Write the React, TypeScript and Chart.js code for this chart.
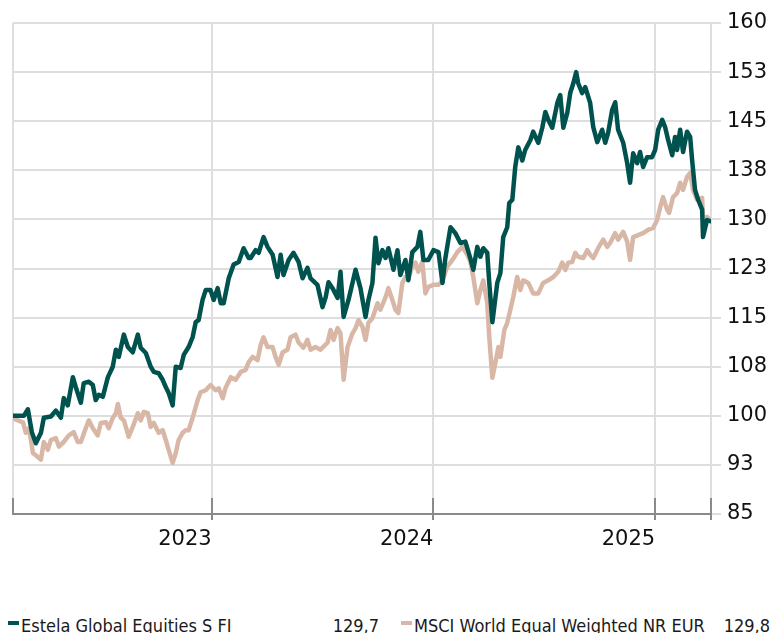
import React, { useEffect, useRef } from "react";
import { Chart, registerables } from "chart.js";
Chart.register(...registerables);

// ---- data (decimal years / index values) ----
const estelaTime = [
  2022.104, 2022.153, 2022.171, 2022.189, 2022.207, 2022.23, 2022.243, 2022.275, 2022.297, 2022.32,
  2022.333, 2022.351, 2022.374, 2022.387, 2022.41, 2022.423, 2022.446, 2022.464, 2022.477, 2022.491,
  2022.509, 2022.532, 2022.554, 2022.568, 2022.581, 2022.604, 2022.622, 2022.644, 2022.667, 2022.68,
  2022.703, 2022.725, 2022.739, 2022.761, 2022.779, 2022.793, 2022.806, 2022.824, 2022.838, 2022.86,
  2022.874, 2022.896, 2022.914, 2022.928, 2022.941, 2022.959, 2022.973, 2022.995, 2023.009, 2023.027,
  2023.041, 2023.054, 2023.077, 2023.099, 2023.122, 2023.144, 2023.167, 2023.176, 2023.198, 2023.212,
  2023.234, 2023.252, 2023.275, 2023.297, 2023.311, 2023.324, 2023.347, 2023.369, 2023.392, 2023.41,
  2023.432, 2023.446, 2023.477, 2023.5, 2023.514, 2023.527, 2023.545, 2023.568, 2023.581, 2023.595,
  2023.617, 2023.649, 2023.671, 2023.694, 2023.707, 2023.725, 2023.739, 2023.752, 2023.77, 2023.784,
  2023.797, 2023.82, 2023.838, 2023.851, 2023.874, 2023.887, 2023.905, 2023.928, 2023.941, 2023.955,
  2023.977, 2024.0, 2024.023, 2024.041, 2024.054, 2024.077, 2024.099, 2024.122, 2024.144, 2024.167,
  2024.18, 2024.198, 2024.212, 2024.225, 2024.243, 2024.252, 2024.266, 2024.288, 2024.302, 2024.315,
  2024.333, 2024.342, 2024.356, 2024.369, 2024.383, 2024.401, 2024.414, 2024.437, 2024.45, 2024.473,
  2024.491, 2024.505, 2024.518, 2024.536, 2024.559, 2024.572, 2024.586, 2024.604, 2024.617, 2024.631,
  2024.644, 2024.653, 2024.671, 2024.685, 2024.707, 2024.721, 2024.739, 2024.761, 2024.775, 2024.788,
  2024.806, 2024.82, 2024.833, 2024.856, 2024.874, 2024.887, 2024.901, 2024.919, 2024.932, 2024.946,
  2024.964, 2024.986, 2025.0, 2025.014, 2025.032, 2025.045, 2025.059, 2025.077, 2025.09, 2025.099,
  2025.113, 2025.126, 2025.144, 2025.158, 2025.167, 2025.18, 2025.194, 2025.212, 2025.216, 2025.234,
  2025.252,
];
const estelaValue = [
  100.0, 100.0, 101.0, 97.5, 95.8, 97.4, 99.7, 99.9, 100.8, 99.7,
  102.7, 101.6, 105.9, 104.4, 102.0, 105.0, 105.2, 104.7, 102.4, 103.2,
  102.9, 105.9, 107.5, 110.1, 109.0, 112.4, 110.5, 109.7, 112.4, 110.4,
  109.6, 107.5, 106.7, 106.5, 105.5, 104.4, 103.5, 101.6, 107.5, 107.3,
  109.3, 110.5, 112.0, 114.3, 114.6, 117.7, 119.2, 119.2, 117.7, 119.5,
  117.2, 117.2, 121.0, 123.1, 123.5, 125.6, 124.1, 124.1, 125.3, 124.9,
  127.3, 125.8, 124.6, 121.2, 124.6, 121.5, 123.8, 124.9, 123.5, 121.0,
  122.6, 121.0, 120.0, 116.6, 118.1, 120.4, 119.5, 118.0, 122.0, 115.1,
  117.7, 122.3, 119.5, 115.1, 117.7, 120.3, 127.2, 123.3, 125.3, 124.1,
  125.6, 122.3, 125.3, 121.5, 123.8, 120.7, 125.0, 125.8, 128.1, 123.8,
  123.8, 125.3, 125.0, 120.3, 124.1, 128.8, 127.9, 126.4, 126.6, 124.0,
  122.3, 125.8, 124.3, 125.6, 124.9, 120.3, 114.3, 120.3, 121.8, 127.3,
  128.8, 132.5, 133.0, 138.0, 141.0, 139.0, 140.6, 142.1, 143.4, 141.7,
  144.0, 146.4, 145.2, 144.0, 147.8, 149.0, 144.0, 146.3, 149.3, 150.8,
  152.5, 150.8, 149.3, 150.2, 147.8, 144.1, 141.8, 143.7, 141.7, 143.2,
  146.7, 147.9, 143.7, 141.7, 138.6, 135.6, 140.1, 138.6, 140.3, 138.0,
  139.5, 139.5, 140.6, 143.7, 145.2, 144.1, 142.1, 139.8, 142.6, 140.6,
  143.7, 140.3, 143.4, 142.6, 139.0, 134.5, 133.0, 131.5, 127.3, 129.9,
  129.7,
];

const msciTime = [
  2022.104, 2022.126, 2022.149, 2022.162, 2022.176, 2022.194, 2022.216, 2022.23, 2022.243, 2022.261,
  2022.275, 2022.297, 2022.311, 2022.333, 2022.356, 2022.378, 2022.396, 2022.41, 2022.432, 2022.446,
  2022.464, 2022.486, 2022.5, 2022.523, 2022.536, 2022.554, 2022.568, 2022.577, 2022.59, 2022.604,
  2022.626, 2022.644, 2022.667, 2022.68, 2022.694, 2022.712, 2022.725, 2022.739, 2022.761, 2022.779,
  2022.793, 2022.806, 2022.824, 2022.838, 2022.851, 2022.869, 2022.883, 2022.896, 2022.914, 2022.937,
  2022.95, 2022.973, 2022.995, 2023.018, 2023.032, 2023.05, 2023.063, 2023.086, 2023.108, 2023.131,
  2023.153, 2023.167, 2023.185, 2023.207, 2023.221, 2023.234, 2023.252, 2023.275, 2023.288, 2023.302,
  2023.32, 2023.342, 2023.356, 2023.378, 2023.392, 2023.414, 2023.432, 2023.446, 2023.468, 2023.491,
  2023.523, 2023.536, 2023.55, 2023.568, 2023.581, 2023.595, 2023.613, 2023.635, 2023.649, 2023.662,
  2023.68, 2023.694, 2023.707, 2023.725, 2023.748, 2023.761, 2023.784, 2023.797, 2023.815, 2023.829,
  2023.842, 2023.86, 2023.874, 2023.887, 2023.905, 2023.919, 2023.932, 2023.95, 2023.964, 2023.977,
  2024.0, 2024.023, 2024.041, 2024.063, 2024.086, 2024.108, 2024.131, 2024.153, 2024.167, 2024.18,
  2024.198, 2024.212, 2024.225, 2024.243, 2024.252, 2024.266, 2024.279, 2024.293, 2024.302, 2024.32,
  2024.333, 2024.347, 2024.36, 2024.378, 2024.392, 2024.405, 2024.428, 2024.45, 2024.473, 2024.495,
  2024.518, 2024.541, 2024.563, 2024.581, 2024.595, 2024.608, 2024.626, 2024.64, 2024.653, 2024.676,
  2024.694, 2024.707, 2024.721, 2024.743, 2024.766, 2024.784, 2024.797, 2024.82, 2024.833, 2024.856,
  2024.874, 2024.887, 2024.901, 2024.923, 2024.946, 2024.968, 2024.991, 2025.009, 2025.023, 2025.036,
  2025.054, 2025.063, 2025.081, 2025.099, 2025.113, 2025.126, 2025.144, 2025.158, 2025.171, 2025.189,
  2025.212, 2025.216, 2025.234, 2025.252,
];
const msciValue = [
  99.6, 99.3, 99.0, 97.4, 98.1, 94.3, 93.7, 93.3, 96.0, 94.8,
  96.3, 96.6, 95.3, 96.0, 97.0, 97.5, 96.0, 96.0, 98.1, 99.3,
  98.1, 97.0, 98.9, 99.0, 98.1, 99.7, 100.4, 101.8, 99.7, 99.3,
  96.8, 98.3, 100.4, 99.3, 100.6, 100.4, 98.3, 98.9, 97.4, 97.8,
  96.3, 94.8, 92.8, 94.3, 96.3, 97.4, 97.8, 97.8, 99.7, 102.4,
  103.6, 103.9, 104.7, 103.9, 104.2, 102.7, 104.3, 105.9, 105.5, 106.7,
  107.0, 108.2, 109.0, 108.5, 110.8, 112.0, 110.5, 110.5, 109.0, 107.8,
  109.7, 110.1, 112.0, 112.4, 111.2, 110.4, 111.6, 110.1, 110.5, 110.1,
  111.2, 113.1, 111.6, 113.4, 112.6, 105.5, 110.5, 112.6, 113.4, 114.6,
  113.6, 111.6, 114.2, 114.9, 117.2, 116.2, 118.1, 119.5, 117.7, 116.2,
  115.7, 120.3, 121.2, 121.0, 122.8, 123.4, 122.0, 123.5, 118.7, 119.7,
  120.0, 120.0, 120.7, 122.8, 123.8, 125.0, 125.8, 124.6, 123.5, 121.2,
  117.2, 119.2, 120.7, 117.2, 112.0, 105.8, 108.0, 110.5, 109.0, 113.1,
  114.2, 116.2, 118.1, 121.2, 119.2, 120.7, 120.3, 118.7, 118.7, 120.3,
  120.7, 121.2, 122.0, 123.4, 122.3, 123.4, 123.5, 124.9, 124.3, 124.1,
  125.3, 124.6, 124.1, 125.6, 126.9, 125.8, 126.4, 127.9, 126.9, 128.1,
  126.6, 123.8, 127.3, 127.6, 127.9, 128.4, 128.7, 129.9, 131.9, 133.4,
  131.5, 131.0, 133.4, 134.0, 135.6, 134.5, 136.5, 137.1, 134.5, 133.0,
  133.3, 129.9, 130.4, 129.8,
];

const yearTicks = [2023, 2024, 2025];
const axisStart = 2022.104;
const axisEnd = 2025.252;
const yMin = 85;
const yMax = 160;
const yStep = 7.5;
const seriesNames = ["Estela Global Equities S FI", "MSCI World Equal Weighted NR EUR"];
const lastValues = ["129,7", "129,8"];
const seriesColors = ["#00524e", "#d9b7a7"];

const axisMarks = {
  id: "axisMarks",
  afterDatasetsDraw(chart: any) {
    const { ctx, chartArea, scales } = chart;
    const x = scales.x;
    ctx.save();
    ctx.strokeStyle = "#8a8a8a";
    ctx.lineWidth = 2;
    ctx.beginPath();
    ctx.moveTo(chartArea.left - 1, chartArea.bottom);
    ctx.lineTo(chartArea.right + 1, chartArea.bottom);
    ctx.stroke();
    [axisStart, ...yearTicks, axisEnd].forEach((v, i) => {
      const px = Math.round(x.getPixelForValue(v));
      ctx.beginPath();
      ctx.moveTo(px, chartArea.bottom - 16);
      ctx.lineTo(px, i === 0 ? chartArea.bottom : chartArea.bottom + 6);
      ctx.stroke();
    });
    ctx.restore();
  },
};

function ChartView() {
  const ref = useRef<HTMLCanvasElement>(null);
  useEffect(() => {
    if (!ref.current) return;
    Chart.defaults.font.family = "'DejaVu Sans', Verdana, sans-serif";
    const chart = new Chart(ref.current, {
      type: "line",
      data: {
        datasets: [
          {
            label: seriesNames[0],
            data: estelaTime.map((t, i) => ({ x: t, y: estelaValue[i] })),
            borderColor: seriesColors[0],
            backgroundColor: seriesColors[0],
            borderWidth: 4.5,
            pointRadius: 0,
            tension: 0,
            borderJoinStyle: "round",
            borderCapStyle: "round",
          },
          {
            label: seriesNames[1],
            data: msciTime.map((t, i) => ({ x: t, y: msciValue[i] })),
            borderColor: seriesColors[1],
            backgroundColor: seriesColors[1],
            borderWidth: 4.5,
            pointRadius: 0,
            tension: 0,
            borderJoinStyle: "round",
            borderCapStyle: "round",
          },
        ],
      },
      options: {
        animation: false,
        responsive: false,
        devicePixelRatio: 1,
        layout: { padding: { top: 23, left: 12, right: 0, bottom: 0 } },
        plugins: { legend: { display: false }, tooltip: { enabled: false } },
        scales: {
          x: {
            type: "linear",
            min: axisStart,
            max: axisEnd,
            afterBuildTicks: (s: any) => {
              s.ticks = [axisStart, ...yearTicks, axisEnd].map((v) => ({ value: v }));
            },
            afterFit: (s: any) => {
              s.height = 46;
            },
            ticks: {
              autoSkip: false,
              maxRotation: 0,
              align: "end",
              padding: 13,
              color: "#111",
              font: { size: 21 },
              callback: (v: any) => (yearTicks.includes(v) ? String(v) : ""),
            },
            grid: { color: "#dedede", lineWidth: 2, drawTicks: false },
            border: { display: false },
          },
          y: {
            position: "right",
            min: yMin,
            max: yMax,
            afterFit: (s: any) => {
              s.width = 60;
            },
            ticks: {
              stepSize: yStep,
              padding: 6,
              color: "#111",
              font: { size: 21 },
              callback: (v: any) => String(Math.round(v)),
            },
            grid: { color: "#dedede", lineWidth: 2, tickLength: 10, tickColor: "#dedede" },
            border: { display: false },
          },
        },
      },
      plugins: [axisMarks],
    });
    return () => chart.destroy();
  }, []);
  return <canvas ref={ref} width={771} height={560} style={{ display: "block" }} />;
}

const legendFont: React.CSSProperties = {
  position: "absolute",
  top: 617,
  fontFamily: "'DejaVu Sans Condensed', 'DejaVu Sans', sans-serif",
  fontStretch: "condensed",
  fontSize: 18,
  lineHeight: "18px",
  color: "#1a1a1a",
  whiteSpace: "nowrap",
};

export default function App() {
  return (
    <div
      style={{
        position: "fixed",
        left: 0,
        top: 0,
        width: 771,
        height: 633,
        overflow: "hidden",
        background: "#fff",
      }}
    >
      <ChartView />
      <div style={{ position: "absolute", left: 8, top: 621, width: 11, height: 4, background: seriesColors[0] }} />
      <div style={{ ...legendFont, left: 21 }}>{seriesNames[0]}</div>
      <div style={{ ...legendFont, right: 771 - 379, textAlign: "right" }}>{lastValues[0]}</div>
      <div style={{ position: "absolute", left: 401, top: 621, width: 11, height: 4, background: seriesColors[1] }} />
      <div style={{ ...legendFont, left: 414 }}>{seriesNames[1]}</div>
      <div style={{ ...legendFont, right: 1, textAlign: "right" }}>{lastValues[1]}</div>
    </div>
  );
}
